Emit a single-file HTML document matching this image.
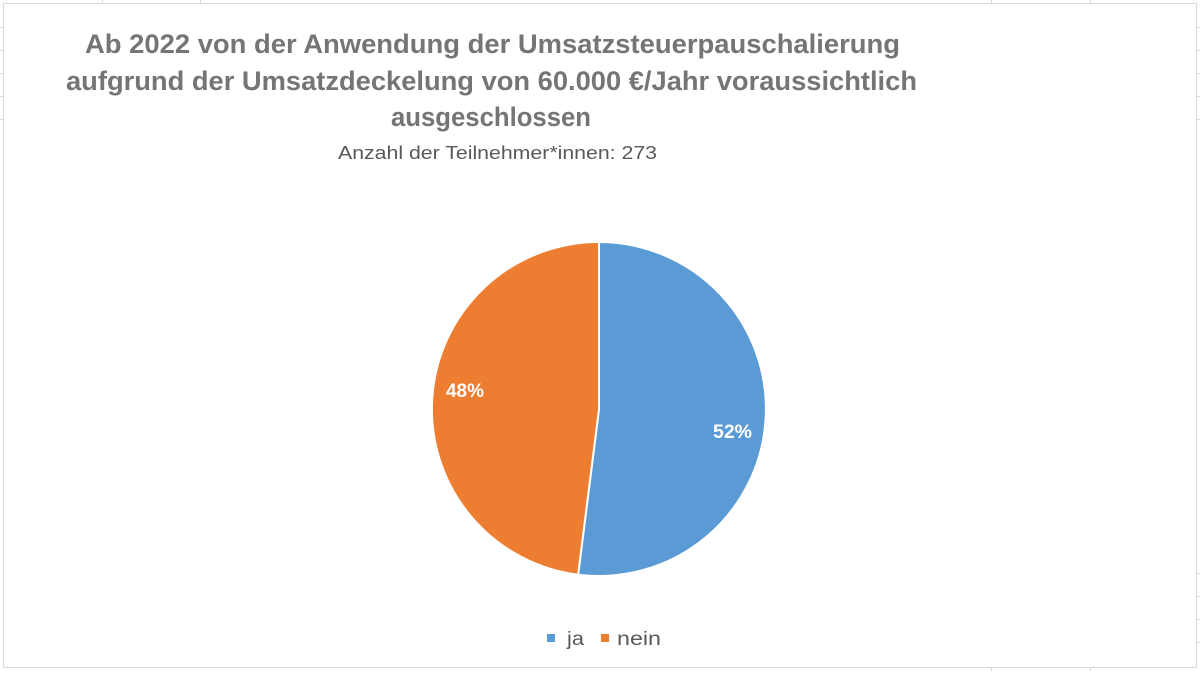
<!DOCTYPE html>
<html><head><meta charset="utf-8"><style>
html,body{margin:0;padding:0;background:#fff;}
body{width:1200px;height:671px;overflow:hidden;position:relative;font-family:"Liberation Sans","DejaVu Sans",sans-serif;}
</style></head><body>
<svg width="1200" height="671" viewBox="0 0 1200 671" xmlns="http://www.w3.org/2000/svg">
<g stroke="#d9d9d9" stroke-width="1">
<line x1="102.5" y1="0" x2="102.5" y2="4"/><line x1="200.5" y1="0" x2="200.5" y2="4"/>
<line x1="991.5" y1="0" x2="991.5" y2="4"/><line x1="1090.5" y1="0" x2="1090.5" y2="4"/>
<line x1="991.5" y1="667" x2="991.5" y2="671"/><line x1="1090.5" y1="667" x2="1090.5" y2="671"/>
<line x1="0" y1="27.5" x2="3" y2="27.5"/><line x1="0" y1="50.5" x2="3" y2="50.5"/><line x1="0" y1="73.5" x2="3" y2="73.5"/><line x1="0" y1="96.5" x2="3" y2="96.5"/><line x1="0" y1="119.5" x2="3" y2="119.5"/>
<line x1="1196" y1="27.5" x2="1200" y2="27.5"/><line x1="1196" y1="50.5" x2="1200" y2="50.5"/><line x1="1196" y1="73.5" x2="1200" y2="73.5"/><line x1="1196" y1="96.5" x2="1200" y2="96.5"/><line x1="1196" y1="119.5" x2="1200" y2="119.5"/>
<line x1="1196" y1="573.5" x2="1200" y2="573.5"/><line x1="1196" y1="596.5" x2="1200" y2="596.5"/><line x1="1196" y1="619.5" x2="1200" y2="619.5"/><line x1="1196" y1="642.5" x2="1200" y2="642.5"/>
</g>
<rect x="3.5" y="3.5" width="1193" height="664" fill="#fff" stroke="#d9d9d9" stroke-width="1"/>
<g fill="#757575" font-weight="bold" font-size="27" lengthAdjust="spacingAndGlyphs">
<text x="85" y="53" textLength="815" lengthAdjust="spacingAndGlyphs">Ab 2022 von der Anwendung der Umsatzsteuerpauschalierung</text>
<text x="66" y="90" textLength="851" lengthAdjust="spacingAndGlyphs">aufgrund der Umsatzdeckelung von 60.000 €/Jahr voraussichtlich</text>
<text x="391" y="126" textLength="200" lengthAdjust="spacingAndGlyphs">ausgeschlossen</text>
</g>
<text x="338" y="159" fill="#595959" font-size="18" textLength="319" lengthAdjust="spacingAndGlyphs">Anzahl der Teilnehmer*innen: 273</text>
<path d="M599,409 L599,242 A167,167 0 1,1 578.1,574.7 Z" fill="#5b9bd5" stroke="#fff" stroke-width="2"/>
<path d="M599,409 L578.1,574.7 A167,167 0 0,1 599,242 Z" fill="#ed7d31" stroke="#fff" stroke-width="2"/>
<g fill="#fff" font-weight="bold" font-size="19">
<text x="446" y="397" textLength="38" lengthAdjust="spacingAndGlyphs">48%</text>
<text x="713" y="438" textLength="39" lengthAdjust="spacingAndGlyphs">52%</text>
</g>
<rect x="547" y="634" width="8" height="8" fill="#5b9bd5"/>
<rect x="601" y="634" width="8" height="8" fill="#ed7d31"/>
<g fill="#595959" font-size="19">
<text x="567" y="645" textLength="17" lengthAdjust="spacingAndGlyphs">ja</text>
<text x="617" y="645" textLength="44" lengthAdjust="spacingAndGlyphs">nein</text>
</g>
</svg>
</body></html>
